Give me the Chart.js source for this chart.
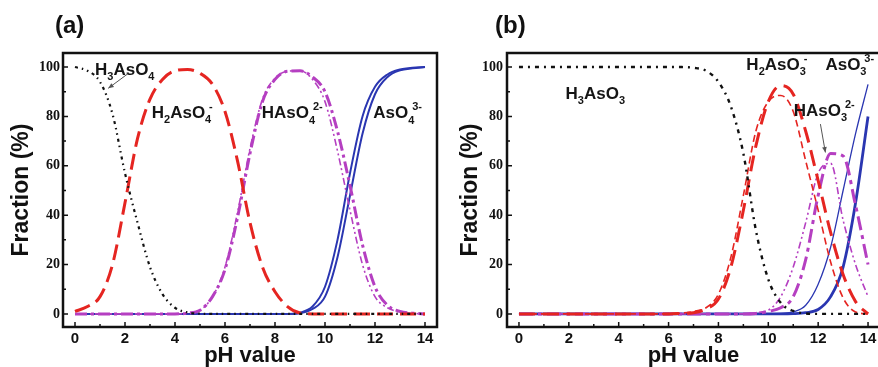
<!DOCTYPE html>
<html><head><meta charset="utf-8">
<script src="https://cdn.jsdelivr.net/npm/chart.js@4.4.1/dist/chart.umd.min.js"></script>
<style>
html,body{margin:0;padding:0;background:#fff;width:878px;height:367px;overflow:hidden;}
#wrapA{position:absolute;left:0;top:0;width:440px;height:367px;}
#wrapB{position:absolute;left:440px;top:0;width:440px;height:367px;}
canvas{display:block;}
</style></head><body>
<div id="wrapA"><canvas id="ca" width="440" height="367"></canvas></div>
<div id="wrapB"><canvas id="cb" width="440" height="367"></canvas></div>
<script>
// ---------- data ----------
const pH = [0,0.5,1,1.5,2,2.5,3,3.5,4,4.5,5,5.5,6,6.5,7,7.5,8,8.5,9,9.5,10,10.5,11,11.5,12,12.5,13,13.5,14];
const xTicks = [0,2,4,6,8,10,12,14];
const xMinorTicks = [1,3,5,7,9,11,13];
const yTicks = [0,20,40,60,80,100];
const yMinorTicks = [10,30,50,70,90];

// panel (a): arsenate species (%)
const aH3AsO4     = [100,98.5,94,81,57,37,19,8,2.5,0.6,0.1,0,0,0,0,0,0,0,0,0,0,0,0,0,0,0,0,0,0];
const aH2AsO4     = [1,3,7,20,45,71,87,95,98.5,99,97.5,93,82,62,37,19,9,3,0.4,0,0,0,0,0,0,0,0,0,0];
const aHAsO4Thin  = [0,0,0,0,0,0,0,0,0,0.3,1.5,7,19,41,67,87,95.5,98.3,98.5,95,86,66,42,20,7,2.5,0.7,0.2,0];
const aHAsO4Thick = [0,0,0,0,0,0,0,0,0,0.3,1.5,7,18,39,65,86,95,98.3,98.5,96,90,74,52,28,11,3.5,1,0.3,0];
const aAsO4A      = [0,0,0,0,0,0,0,0,0,0,0,0,0,0,0,0,0,0,0.5,3,11,30,57,80,92,97,99,99.7,100];
const aAsO4B      = [0,0,0,0,0,0,0,0,0,0,0,0,0,0,0,0,0,0,0.3,2,7,23,48,73,89,96,98.7,99.5,100];

// panel (b): arsenite species (%)
const bH3AsO3      = [100,100,100,100,100,100,100,100,100,100,100,100,100,100,99.7,98.5,94,84,65,34,14,4.5,1.2,0.2,0,0,0,0,0];
const bH2AsO3Thin  = [0,0,0,0,0,0,0,0,0,0,0,0,0.1,0.3,1,2.5,8,23,48,74,86,88.5,82,62,42,21,6.5,0.8,0];
const bH2AsO3Thick = [0,0,0,0,0,0,0,0,0,0,0,0,0,0.2,0.5,2,6,19,42,68,86,92.5,89,74,54,33,16,5,0];
const bHAsO3Thin   = [0,0,0,0,0,0,0,0,0,0,0,0,0,0,0,0,0,0,0,0.5,1.5,7,19,37,57,61,38,20,7];
const bHAsO3Thick  = [0,0,0,0,0,0,0,0,0,0,0,0,0,0,0,0,0,0,0,0.2,1,2.5,7,22,48,65,64,44,20];
const bAsO3Thin    = [0,0,0,0,0,0,0,0,0,0,0,0,0,0,0,0,0,0,0,0,0,0.2,0.8,3.5,12,27,50,73,93];
const bAsO3Thick   = [0,0,0,0,0,0,0,0,0,0,0,0,0,0,0,0,0,0,0,0,0,0,0.1,0.5,1.8,7,19,45,80];

// ---------- styling ----------
const SANS = '"Liberation Sans", Arial, sans-serif';
const SERIF = '"Liberation Serif", "Times New Roman", serif';
const C_BLACK = '#111111', C_RED = '#e52521', C_MAG = '#b53fc1', C_BLUE = '#2a36b1';

function series(arr){ return pH.map((x,i)=>({x:x, y:arr[i]})); }
function ds(label, arr, color, width, dash){
  return {label, data: series(arr), borderColor: color, backgroundColor: color,
    borderWidth: width, borderDash: dash || [], pointRadius: 0, fill: false,
    cubicInterpolationMode: 'monotone'};
}

function drawChem(ctx, x, y, parts, size){
  let cx = x, lastSub = null;
  ctx.textBaseline = 'alphabetic'; ctx.textAlign = 'left'; ctx.fillStyle = '#151515';
  for (const [t, k] of parts){
    if (k === 'n'){
      ctx.font = `bold ${size}px ${SANS}`;
      ctx.fillText(t, cx, y); cx += ctx.measureText(t).width; lastSub = null;
    } else if (k === 'sub'){
      ctx.font = `bold ${Math.round(size*0.64)}px ${SANS}`;
      ctx.fillText(t, cx, y + size*0.3); lastSub = cx; cx += ctx.measureText(t).width;
    } else {
      ctx.font = `bold ${Math.round(size*0.64)}px ${SANS}`;
      const sx = lastSub !== null ? lastSub + 4 : cx + 1;
      ctx.fillText(t, sx, y - size*0.48);
      cx = Math.max(cx, sx + ctx.measureText(t).width);
    }
  }
}

const framePlugin = {
  id: 'frame',
  afterDatasetsDraw(chart, args, o){
    const {ctx, chartArea: a, scales: {x, y}} = chart;
    ctx.save();
    ctx.strokeStyle = '#111'; ctx.lineWidth = 1.5;
    ctx.beginPath();
    for (const v of xTicks){ const p = x.getPixelForValue(v); ctx.moveTo(p, a.bottom); ctx.lineTo(p, a.bottom-5); }
    for (const v of xMinorTicks){ const p = x.getPixelForValue(v); ctx.moveTo(p, a.bottom); ctx.lineTo(p, a.bottom-3); }
    for (const v of yTicks){ const p = y.getPixelForValue(v); ctx.moveTo(a.left, p); ctx.lineTo(a.left+5, p); }
    for (const v of yMinorTicks){ const p = y.getPixelForValue(v); ctx.moveTo(a.left, p); ctx.lineTo(a.left+3, p); }
    ctx.stroke();
    ctx.lineWidth = 2.5;
    ctx.strokeRect(a.left, a.top, a.right - a.left, a.bottom - a.top);
    // panel letter
    ctx.fillStyle = '#111'; ctx.font = `bold 24px ${SANS}`;
    ctx.textAlign = 'left'; ctx.textBaseline = 'alphabetic';
    ctx.fillText(o.panel, o.panelX, o.panelY);
    // species labels
    for (const n of o.notes){
      drawChem(ctx, x.getPixelForValue(n.at[0]), y.getPixelForValue(n.at[1]), n.parts, 17);
    }
    // leader arrows
    ctx.strokeStyle = '#555'; ctx.fillStyle = '#555'; ctx.lineWidth = 1;
    for (const ar of o.arrows){
      const x1 = x.getPixelForValue(ar.from[0]), y1 = y.getPixelForValue(ar.from[1]);
      const x2 = x.getPixelForValue(ar.to[0]), y2 = y.getPixelForValue(ar.to[1]);
      ctx.beginPath(); ctx.moveTo(x1, y1); ctx.lineTo(x2, y2); ctx.stroke();
      const ang = Math.atan2(y2-y1, x2-x1), L = 6;
      ctx.beginPath(); ctx.moveTo(x2, y2);
      ctx.lineTo(x2 - L*Math.cos(ang-0.4), y2 - L*Math.sin(ang-0.4));
      ctx.lineTo(x2 - L*Math.cos(ang+0.4), y2 - L*Math.sin(ang+0.4));
      ctx.closePath(); ctx.fill();
    }
    ctx.restore();
  }
};

function makeChart(id, datasets, P){
  return new Chart(document.getElementById(id), {
    type: 'line',
    data: {datasets},
    plugins: [framePlugin],
    options: {
      responsive: false, animation: false, devicePixelRatio: 1,
      layout: {padding: {left: 0, right: P.padRight, top: 53, bottom: 0}},
      plugins: {legend: {display: false}, tooltip: {enabled: false},
        frame: {panel: P.panel, panelX: 55, panelY: 33, notes: P.notes, arrows: P.arrows}},
      scales: {
        x: {type: 'linear', min: -0.48, max: 14.48,
          afterBuildTicks: s => { s.ticks = xTicks.map(v => ({value: v})); },
          afterFit: s => { s.height = 40; },
          grid: {display: false, drawTicks: false}, border: {display: false},
          ticks: {font: {family: SANS, weight: 'bold', size: 15}, color: '#111', padding: 3, maxRotation: 0},
          title: {display: true, text: 'pH value', color: '#111',
            font: {family: SANS, weight: 'bold', size: 22, lineHeight: 1}, padding: {top: 0, bottom: 0}}},
        y: {type: 'linear', min: -5.3, max: 105.7,
          afterBuildTicks: s => { s.ticks = yTicks.map(v => ({value: v})); },
          afterFit: s => { s.width = P.yWidth; },
          grid: {display: false, drawTicks: false}, border: {display: false},
          ticks: {font: {family: SERIF, weight: 'bold', size: 14}, color: '#111', padding: P.yTickPad},
          title: {display: true, text: 'Fraction (%)', color: '#111',
            font: {family: SANS, weight: 'bold', size: 23, lineHeight: 1}, padding: {top: P.yTitlePad, bottom: 0}}}
      }
    }
  });
}

makeChart('ca', [
  ds('H3AsO4', aH3AsO4, C_BLACK, 2.2, [3,4,1.5,4,1.5,4]),
  ds('H2AsO4-', aH2AsO4, C_RED, 3, [16,7]),
  ds('HAsO4 2- (thin)', aHAsO4Thin, C_MAG, 1.6, [7,3,2,3,2,3]),
  ds('HAsO4 2- (thick)', aHAsO4Thick, C_MAG, 3, [12,4,3,4]),
  ds('AsO4 3- (a)', aAsO4A, C_BLUE, 2),
  ds('AsO4 3- (b)', aAsO4B, C_BLUE, 2)
], {
  panel: '(a)', padRight: 3, yWidth: 63, yTickPad: 3, yTitlePad: 10.5,
  notes: [
    {at: [0.8, 96.8], parts: [['H','n'],['3','sub'],['AsO','n'],['4','sub']]},
    {at: [3.07, 79.4], parts: [['H','n'],['2','sub'],['AsO','n'],['4','sub'],['-','sup']]},
    {at: [7.47, 79.2], parts: [['HAsO','n'],['4','sub'],['2-','sup']]},
    {at: [11.93, 79.2], parts: [['AsO','n'],['4','sub'],['3-','sup']]}
  ],
  arrows: [{from: [2.13, 97.4], to: [1.33, 91.4]}]
});

makeChart('cb', [
  ds('H3AsO3', bH3AsO3, C_BLACK, 2.4, [4,5,2,5]),
  ds('H2AsO3- (thin)', bH2AsO3Thin, C_RED, 1.6, [7,4]),
  ds('H2AsO3- (thick)', bH2AsO3Thick, C_RED, 3, [16,8]),
  ds('HAsO3 2- (thin)', bHAsO3Thin, C_MAG, 1.6, [7,3,2,3,2,3]),
  ds('HAsO3 2- (thick)', bHAsO3Thick, C_MAG, 3, [14,5,4,5]),
  ds('AsO3 3- (thin)', bAsO3Thin, C_BLUE, 1.3),
  ds('AsO3 3- (thick)', bAsO3Thick, C_BLUE, 2.8)
], {
  panel: '(b)', padRight: 0, yWidth: 67, yTickPad: 4, yTitlePad: 19.5,
  notes: [
    {at: [1.87, 87], parts: [['H','n'],['3','sub'],['AsO','n'],['3','sub']]},
    {at: [9.12, 98.8], parts: [['H','n'],['2','sub'],['AsO','n'],['3','sub'],['-','sup']]},
    {at: [12.29, 98.8], parts: [['AsO','n'],['3','sub'],['3-','sup']]},
    {at: [11.02, 80.2], parts: [['HAsO','n'],['3','sub'],['2-','sup']]}
  ],
  arrows: [{from: [12.09, 76.9], to: [12.29, 65.4]}]
});
</script>
</body></html>
